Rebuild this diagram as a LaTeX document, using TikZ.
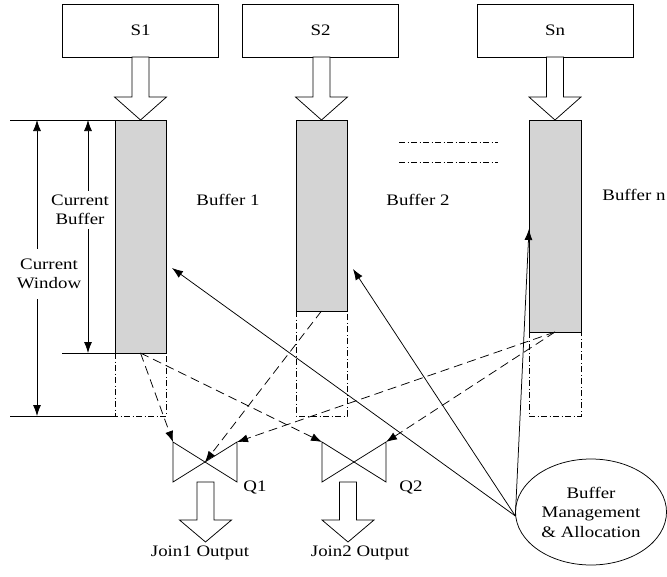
\documentclass[tikz,border=0pt]{standalone}
\usepackage{fontspec}
\setmainfont{Liberation Serif}[FakeStretch=1.18]
\usetikzlibrary{shapes.geometric,arrows.meta}
\definecolor{bufgray}{RGB}{212,212,212}
\newcommand\blkarr[4]{\draw[blk] (#1-8.5,#2) -- (#1+8.5,#2) -- (#1+8.5,#3) -- (#1+26,#3) -- (#1,#4) -- (#1-26,#3) -- (#1-8.5,#3) -- cycle;}
\begin{document}
\begin{tikzpicture}[x=1pt,y=-1pt,line width=0.75pt,
 src/.style={draw,minimum width=156pt,minimum height=53pt,inner sep=0pt,lbl},
 lbl/.style={inner sep=1pt,font=\fontsize{16}{19.5}\selectfont,align=center},
 blk/.style={draw,fill=white,line join=miter},
 buf/.style={draw,fill=bufgray},
 ext/.style={draw,dash pattern=on 6pt off 2.5pt on 1pt off 2.5pt},
 tip/.style={-{Latex[length=11pt,width=8pt]}},
 dsh/.style={tip,dash pattern=on 9pt off 5pt},
 dim/.style={{Latex[length=11pt,width=8pt]}-{Latex[length=11pt,width=8pt]}},
]
\useasboundingbox (0,0) rectangle (667,576);
% sources
\node[src] (S1) at (140.5,30.5) {S1};
\node[src] (S2) at (320.5,30.5) {S2};
\node[src] (Sn) at (555,30.5) {Sn};
\blkarr{140.5}{57}{97}{120}
\blkarr{321.5}{57}{97}{120}
\blkarr{555}{57}{97}{120}
% buffers
\draw[buf] (115,120) rectangle (166,353);
\draw[ext] (115,353) -- (115,416) -- (166,416) -- (166,353);
\draw[buf] (296,120) rectangle (347,311);
\draw[ext] (296,311) -- (296,416) -- (347,416) -- (347,311);
\draw[buf] (529,120) rectangle (581,332);
\draw[ext] (529,332) -- (529,416) -- (581,416) -- (581,332);
\draw[ext] (399,142) -- (498,142);
\draw[ext] (399,162) -- (498,162);
% dimension lines
\draw (10,120) -- (115,120);
\draw (62,353) -- (115,353);
\draw (10,416) -- (115,416);
\coordinate (cwt) at (37,120);
\coordinate (cwb) at (37,416);
\coordinate (cbt) at (88,120);
\coordinate (cbb) at (88,353);
\draw[dim] (cwt) -- (cwb);
\draw[dim] (cbt) -- (cbb);
\node[lbl,fill=white,inner xsep=0.5pt,inner ysep=4pt] (cb) at (80,210) {Current\\Buffer};
\node[lbl,fill=white,inner xsep=0.5pt,inner ysep=10pt] (cw) at (49,274) {Current\\Window};
% labels
\node[lbl] (bl1) at (228,200) {Buffer 1};
\node[lbl] (bl2) at (418,200) {Buffer 2};
\node[lbl] (bln) at (634,195) {Buffer n};
% valves
\draw (173,442) -- (237,482) -- (237,442) -- (173,482) -- cycle;
\draw (322,442) -- (386,482) -- (386,442) -- (322,482) -- cycle;
\node[lbl] (q1) at (255,487) {Q1};
\node[lbl] (q2) at (411,487) {Q2};
\blkarr{205.5}{482}{520}{542}
\blkarr{348}{482}{520}{542}
\node[lbl] (j1) at (200,553) {Join1 Output};
\node[lbl] (j2) at (360,553) {Join2 Output};
% management
\node[draw,ellipse,minimum width=151pt,minimum height=106pt,inner sep=0pt,lbl] (mgmt) at (591,512) {Buffer\\Management\\\& Allocation};
% connector points
\coordinate (b1s) at (140.5,353);
\coordinate (b2s) at (321.5,311);
\coordinate (bns) at (555,332);
\coordinate (q1l) at (173,442);
\coordinate (q1c) at (205,462);
\coordinate (q1r) at (237,442);
\coordinate (q2l) at (322,442);
\coordinate (q2r) at (386,442);
\coordinate (t1) at (172,268);
\coordinate (t2) at (353,269);
\coordinate (tn) at (529,229);
\draw[dsh] (b1s) -- (q1l);
\draw[dsh] (b1s) -- (q2l);
\draw[dsh] (b2s) -- (q1c);
\draw[dsh] (bns) -- (q1r);
\draw[dsh] (bns) -- (q2r);
\draw[tip] (mgmt.183) -- (t1);
\draw[tip] (mgmt.183) -- (t2);
\draw[tip] (mgmt.183) -- (tn);
\end{tikzpicture}
\end{document}
